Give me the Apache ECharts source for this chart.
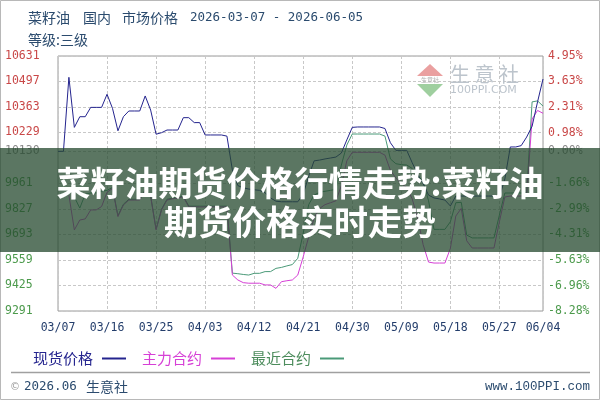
<!DOCTYPE html>
<html><head><meta charset="utf-8">
<script src="https://cdn.jsdelivr.net/npm/echarts@6/dist/echarts.min.js"></script>
<style>html,body{margin:0;padding:0;background:#fff}#c{width:600px;height:400px}</style>
</head><body><div id="c"></div>
<script>
const dates = [
"03/07","03/08","03/09","03/10","03/11","03/12","03/13","03/14","03/15","03/16","03/17","03/18","03/19","03/20","03/21","03/22","03/23","03/24","03/25","03/26","03/27","03/28","03/29","03/30","03/31",
"04/01","04/02","04/03","04/04","04/05","04/06","04/07","04/08","04/09","04/10","04/11","04/12","04/13","04/14","04/15","04/16","04/17","04/18","04/19","04/20","04/21","04/22","04/23","04/24","04/25","04/26","04/27","04/28","04/29","04/30",
"05/01","05/02","05/03","05/04","05/05","05/06","05/07","05/08","05/09","05/10","05/11","05/12","05/13","05/14","05/15","05/16","05/17","05/18","05/19","05/20","05/21","05/22","05/23","05/24","05/25","05/26","05/27","05/28","05/29","05/30","05/31",
"06/01","06/02","06/03","06/04"];

const spot = [
10130,10130,10519,10256,10312,10312,10361,10361,10361,10430,
10356,10238,10312,10342,10342,10342,10421,10347,10220,10228,
10242,10242,10242,10307,10307,10281,10281,10216,10216,10216,
10216,10210,10032,9950,9938,9932,9928,9925,9912,9885,
9868,9865,9865,9865,9865,9905,10000,10080,10084,10090,
10095,10100,10121,10190,10256,10258,10258,10258,10258,10258,
10250,10175,10135,10135,10135,10070,10010,9960,9900,9885,
9880,9874,9843,9895,9895,9895,9895,9895,9895,9895,
9895,9890,9985,10153,10153,10160,10205,10262,10390,10510];

const mainContract = [
null,null,9900,9717,9769,9775,9822,9822,9840,9915,
9935,9787,9848,9874,9874,9874,9925,9892,9717,9822,
9874,9880,9885,9890,9838,9838,9838,9838,9838,9838,
9838,9838,9480,9454,9440,9437,9437,9437,9428,9428,
9410,9445,9450,9454,9480,9576,9680,9780,9830,9850,
9860,9870,9950,10080,10125,10125,10125,10125,10125,10125,
10110,10030,9990,9960,9940,9880,9780,9640,9548,9543,
9543,9543,9620,9790,9830,9660,9622,9622,9622,9622,
9622,9760,9890,9895,9895,9895,9895,10300,10345,10330];

const nearContract = [
null,null,9930,9890,9832,9905,9911,9911,9920,9925,
9940,9792,9852,9878,9878,9878,9930,9896,9722,9826,
9878,9884,9889,9894,9842,9842,9842,9842,9842,9842,
9842,9842,9490,9487,9483,9480,9489,9489,9498,9498,
9515,9520,9528,9535,9568,9700,9850,9900,9915,9920,
9925,9930,10058,10163,10221,10221,10221,10221,10221,10221,
10210,10090,10065,10060,10058,10040,10000,9975,9870,9720,
9720,9720,9760,9860,9862,9690,9675,9675,9675,9675,
9675,9795,9911,9911,9911,9911,9911,10390,10395,10368];

const leftTicks = [9291,9425,9559,9693,9827,9961,10130,10229,10363,10497,10631];
const rightTicks = [-8.28,-6.96,-5.63,-4.31,-2.99,-1.66,0,0.98,2.31,3.63,4.95];
const labelIdx = [0,9,18,27,36,45,54,63,72,81,89];
const baseValue = 10130;

const RED = '#c94848', GREEN = '#4c9a4c', GRAY = '#8a8a8a';
const MONO = '"DejaVu Sans Mono", monospace';
const CJK = '"Noto Sans CJK SC", sans-serif';
const TXT = '#2b4b6e';
const C_SPOT = '#24248e', C_MAIN = '#d640d6', C_NEAR = '#4a9a78';

const chart = echarts.init(document.getElementById('c'), null, {renderer:'canvas'});
const showIdx = (i) => labelIdx.indexOf(i) >= 0;

chart.setOption({
  animation: false,
  backgroundColor: '#fff',
  grid: {left: 58, right: 57, top: 56, bottom: 89, show: true, borderColor: '#9a9a9a', borderWidth: 1},
  legend: {
    left: 28, top: 346, align: 'right', itemGap: 16, itemWidth: 24, itemHeight: 2, icon: 'rect',
    selectedMode: false,
    textStyle: {fontSize: 15, fontFamily: CJK, padding: [0, 4, 0, 0]},
    data: [
      {name: '现货价格', textStyle: {color: C_SPOT}},
      {name: '主力合约', textStyle: {color: C_MAIN}},
      {name: '最近合约', textStyle: {color: '#4c8c5c'}}
    ]
  },
  xAxis: {
    type: 'category', boundaryGap: false, data: dates,
    axisLine: {show: false}, axisTick: {show: false},
    axisLabel: {interval: (i) => showIdx(i), color: '#233d6b', fontFamily: MONO, fontSize: 11.5, margin: 11},
    splitLine: {show: true, interval: (i) => showIdx(i), lineStyle: {color: '#c8c8c8', type: [3, 2], width: 1}}
  },
  yAxis: [
    {
      type: 'value', position: 'left', min: 9291, max: 10631,
      axisLine: {show: false},
      axisTick: {show: false, customValues: leftTicks},
      axisLabel: {
        customValues: leftTicks, align: 'left', margin: 53, fontFamily: MONO, fontSize: 11.5,
        formatter: (v) => String(Math.round(Number(v))),
        color: (v) => Number(v) > baseValue ? RED : (Number(v) === baseValue ? GRAY : GREEN)
      },
      splitLine: {show: true, lineStyle: {color: '#c8c8c8', type: [3, 2], width: 1}}
    },
    {
      type: 'value', position: 'right', min: -8.28, max: 4.95,
      axisLine: {show: false},
      axisTick: {show: false, customValues: rightTicks},
      axisLabel: {
        customValues: rightTicks, align: 'left', margin: 5, fontFamily: MONO, fontSize: 11.5,
        formatter: (v) => Number(v).toFixed(2) + '%',
        color: (v) => Number(v) > 0 ? RED : (Number(v) === 0 ? GRAY : GREEN)
      },
      splitLine: {show: false}
    }
  ],
  series: [
    {name: '最近合约', type: 'line', data: nearContract, yAxisIndex: 0, showSymbol: false, symbol: 'none',
      lineStyle: {color: C_NEAR, width: 1}, itemStyle: {color: C_NEAR}, connectNulls: false},
    {name: '主力合约', type: 'line', data: mainContract, yAxisIndex: 0, showSymbol: false, symbol: 'none',
      lineStyle: {color: C_MAIN, width: 1}, itemStyle: {color: C_MAIN}},
    {name: '现货价格', type: 'line', data: spot, yAxisIndex: 0, showSymbol: false, symbol: 'none',
      lineStyle: {color: C_SPOT, width: 1}, itemStyle: {color: C_SPOT}}
  ],
  graphic: [
    {type: 'rect', z: 0, silent: true, shape: {x: 0.5, y: 0.5, width: 599, height: 399}, style: {fill: 'none', stroke: '#b8b8b8', lineWidth: 1}},
    {type: 'text', x: 28, y: 18, style: {text: '菜籽油', fill: TXT, font: '14px ' + CJK, verticalAlign: 'middle', textVerticalAlign: 'middle'}},
    {type: 'text', x: 83, y: 18, style: {text: '国内', fill: TXT, font: '14px ' + CJK, verticalAlign: 'middle', textVerticalAlign: 'middle'}},
    {type: 'text', x: 122, y: 18, style: {text: '市场价格', fill: TXT, font: '14px ' + CJK, verticalAlign: 'middle', textVerticalAlign: 'middle'}},
    {type: 'text', x: 190, y: 18, style: {text: '2026-03-07 - 2026-06-05', fill: TXT, font: '12.5px ' + MONO, verticalAlign: 'middle', textVerticalAlign: 'middle'}},
    {type: 'text', x: 28, y: 40, style: {text: '等级:三级', fill: TXT, font: '14px ' + CJK, verticalAlign: 'middle', textVerticalAlign: 'middle'}},
    {type: 'polygon', z: 1, silent: true, shape: {points: [[430, 64], [443, 76], [417, 76]]}, style: {fill: '#eaa0a0'}},
    {type: 'polygon', z: 1, silent: true, shape: {points: [[417, 84], [443, 84], [430, 97]]}, style: {fill: '#9fcf9f'}},
    {type: 'text', z: 1, x: 430, y: 80, style: {text: '生意社', fill: '#b0b0b0', font: '6px ' + CJK, align: 'center', verticalAlign: 'middle', textAlign: 'center', textVerticalAlign: 'middle'}},
    {type: 'text', z: 1, x: 450, y: 74, style: {text: '生 意 社', fill: '#bcc4cc', font: '20px ' + CJK, verticalAlign: 'middle', textVerticalAlign: 'middle'}},
    {type: 'text', z: 1, x: 450, y: 90, style: {text: '100PPI.COM', fill: '#bcc4cc', font: '11px "DejaVu Sans", sans-serif', verticalAlign: 'middle', textVerticalAlign: 'middle'}},
    {type: 'line', silent: true, shape: {x1: 11, y1: 372.5, x2: 590, y2: 372.5}, style: {stroke: '#a0a0a0', lineWidth: 1.5}},
    {type: 'text', x: 10, y: 387, style: {text: '©', fill: '#9a9a9a', font: '10px "DejaVu Sans", sans-serif', verticalAlign: 'middle', textVerticalAlign: 'middle'}},
    {type: 'text', x: 24, y: 387, style: {text: '2026.06', fill: TXT, font: '12.5px ' + MONO, verticalAlign: 'middle', textVerticalAlign: 'middle'}},
    {type: 'text', x: 86, y: 387, style: {text: '生意社', fill: TXT, font: '14px ' + CJK, verticalAlign: 'middle', textVerticalAlign: 'middle'}},
    {type: 'text', x: 590, y: 387, style: {text: 'www.100PPI.com', fill: TXT, font: '12.5px "Liberation Mono", monospace', align: 'right', verticalAlign: 'middle', textAlign: 'right', textVerticalAlign: 'middle'}},
    {type: 'rect', z: 100, silent: true, shape: {x: 0, y: 148, width: 600, height: 104}, style: {fill: 'rgba(40,75,48,0.76)'}},
    {type: 'text', z: 101, x: 300, y: 183, style: {text: '菜籽油期货价格行情走势:菜籽油', fill: '#ffffff', font: 'bold 34px ' + CJK, align: 'center', verticalAlign: 'middle', textAlign: 'center', textVerticalAlign: 'middle'}},
    {type: 'text', z: 101, x: 300, y: 222, style: {text: '期货价格实时走势', fill: '#ffffff', font: 'bold 34px ' + CJK, align: 'center', verticalAlign: 'middle', textAlign: 'center', textVerticalAlign: 'middle'}}
  ]
});
</script>
</body></html>
